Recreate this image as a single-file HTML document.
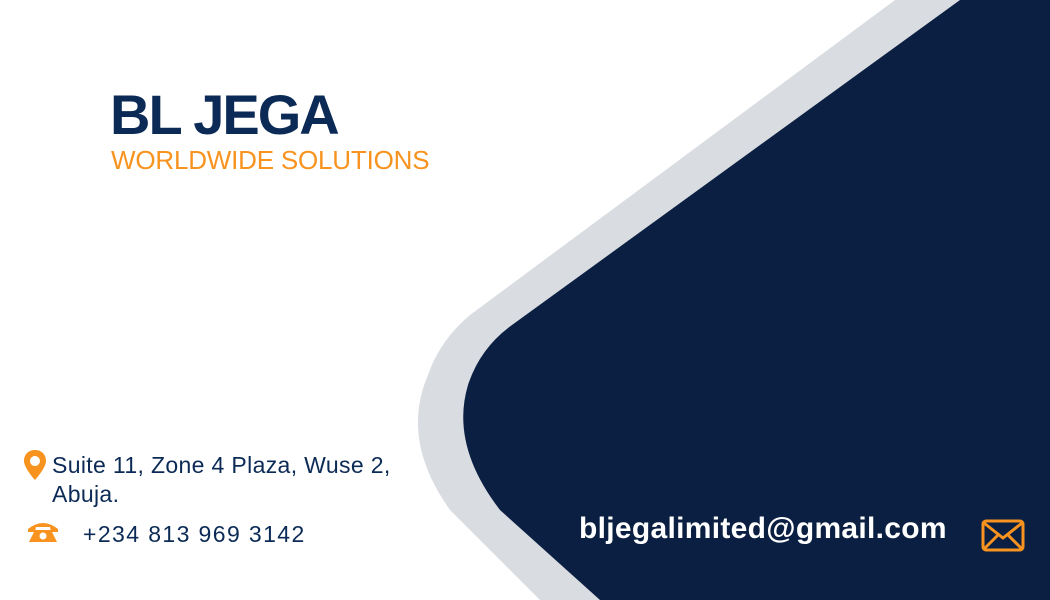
<!DOCTYPE html>
<html><head><meta charset="utf-8"><style>
html,body{margin:0;padding:0;background:#fff}
#card{position:relative;width:1050px;height:600px;overflow:hidden;background:#fff;font-family:"Liberation Sans",sans-serif}
.t{position:absolute;white-space:nowrap}
</style></head><body>
<div id="card">
<svg width="1050" height="600" style="position:absolute;left:0;top:0">
<path fill="#d9dce1" d="M895,0 L1050,0 L1050,600 L540,600 L450,510 Q400,440 428,375 Q440,340 470,315 Z"/>
<path fill="#0a1f41" d="M960,0 L1050,0 L1050,600 L600,600 L500,510 Q450,445 468,385 Q480,348 512,325 Z"/>
</svg>
<div class="t" style="left:110px;top:82px;font-size:56px;font-weight:bold;color:#0b2a55;letter-spacing:-2px">BL JEGA</div>
<div class="t" style="left:111px;top:145px;font-size:26px;color:#f7931e;letter-spacing:-0.2px">WORLDWIDE SOLUTIONS</div>
<svg width="24" height="32" style="position:absolute;left:23px;top:450px" viewBox="0 0 24 32"><path fill="#f7931e" d="M12,0 C5,0 1,5 1,11 C1,18 12,30 12,30 C12,30 23,18 23,11 C23,5 19,0 12,0 Z M12,6 A5,5 0 1,1 11.9,6 Z"/></svg>
<div class="t" style="left:52px;top:451px;font-size:23px;line-height:29px;color:#0b2a55;letter-spacing:0.35px">Suite 11, Zone 4 Plaza, Wuse 2,<br>Abuja.</div>
<svg width="32" height="22" style="position:absolute;left:27px;top:521px" viewBox="0 0 32 22"><path fill="#f7931e" d="M1,8 Q16,-4 31,8 L31,11 L24,11 L23,6 L9,6 L8,11 L1,11 Z M8,9 L24,9 L30,21 L2,21 Z"/><circle cx="16" cy="15" r="3.5" fill="#fff"/></svg>
<div class="t" style="left:83px;top:521px;font-size:23px;color:#0b2a55;letter-spacing:1.4px">+234 813 969 3142</div>
<div class="t" style="left:579px;top:512px;font-size:30px;font-weight:bold;color:#fff;letter-spacing:0.3px">bljegalimited@gmail.com</div>
<svg width="44" height="34" style="position:absolute;left:981px;top:519px" viewBox="0 0 44 34"><rect x="2" y="2" width="40" height="29" rx="3" fill="none" stroke="#f7931e" stroke-width="3"/><path d="M3,4 L22,19 L41,4 M3,30 L17,16 M41,30 L27,16" fill="none" stroke="#f7931e" stroke-width="3"/></svg>
</div>
</body></html>
